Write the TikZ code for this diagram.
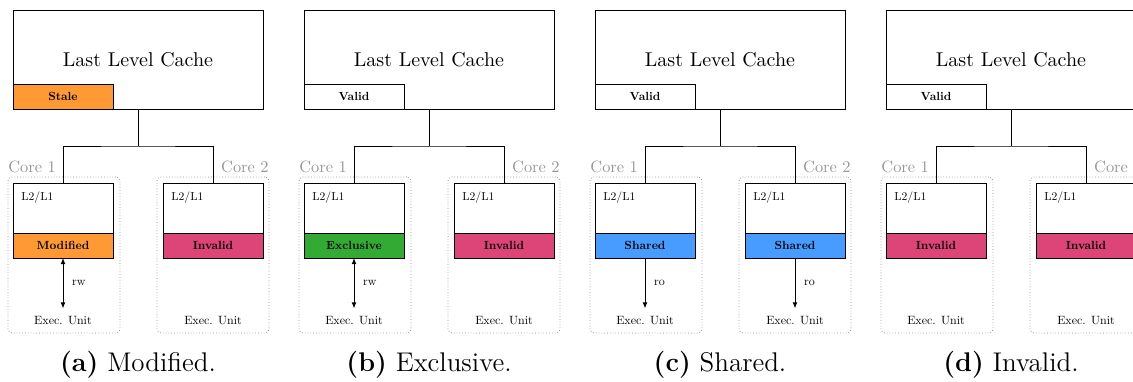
\documentclass[tikz,border=0pt]{standalone}
\usepackage{tikz}
\usetikzlibrary{arrows.meta,positioning}

\definecolor{modorange}{RGB}{255,153,51}
\definecolor{excgreen}{RGB}{51,170,51}
\definecolor{shrblue}{RGB}{72,155,255}
\definecolor{invpink}{RGB}{221,68,119}
\definecolor{coregray}{RGB}{150,150,150}

% small text as a scaled 10pt design
\newcommand{\tinytext}[1]{\scalebox{0.6}{#1}}
\newcommand{\statetext}[1]{\scalebox{0.59}{\bfseries #1}}

\tikzset{
  cachebox/.style={draw,line width=0.5pt,inner sep=0pt,outer sep=0pt,minimum width=50pt},
  statebox/.style={cachebox,minimum height=12.5pt},
  corebox/.style={draw=coregray,line width=0.4pt,dash pattern=on 0.4pt off 1pt,rounded corners=2pt,minimum width=56pt,minimum height=78pt,inner sep=0pt,outer sep=0pt},
  corelbl/.style={text=coregray,inner sep=0pt,yshift=2.5pt},
  wire/.style={line width=0.5pt},
  access/.style={line width=0.45pt,<->},
}

\begin{document}
\begin{tikzpicture}[x=0.5pt,y=-0.5pt,>={Latex[length=3pt,width=2.4pt]}]
\useasboundingbox (0,0) rectangle (1133,381);
\clip (0,0) rectangle (1133,381);
\foreach \i/\ox/\llcs/\llcc/\sa/\ca/\sb/\cb/\capt in {
    a/0/Stale/modorange/Modified/modorange/Invalid/invpink/{\textbf{(a)} Modified.},
    b/291/Valid/white/Exclusive/excgreen/Invalid/invpink/{\textbf{(b)} Exclusive.},
    c/582/Valid/white/Shared/shrblue/Shared/shrblue/{\textbf{(c)} Shared.},
    d/873/Valid/white/Invalid/invpink/Invalid/invpink/{\textbf{(d)} Invalid.}}{
  % shared last level cache
  \node [cachebox,anchor=north west,minimum width=125pt,minimum height=49.5pt] (llc\i) at (13+\ox,10) {Last Level Cache};
  \node [statebox,fill=\llcc,anchor=south west] (st\i) at (llc\i.south west) {\statetext{\llcs}};
  % the two cores
  \node [corebox,anchor=north west,label={[corelbl,anchor=base west]north west:\scalebox{0.82}{Core 1}}] (cx\i) at (8+\ox,177) {};
  \node [corebox,anchor=north west,label={[corelbl,anchor=base east]north east:\scalebox{0.82}{Core 2}}] (cy\i) at (157+\ox,177) {};
  \node [cachebox,anchor=north west,minimum height=25pt,
         label={[anchor=north west,inner sep=4pt]north west:\scalebox{0.58}{L2/L1}}] (la\i) at (13+\ox,183) {};
  \node [cachebox,anchor=north west,minimum height=25pt,
         label={[anchor=north west,inner sep=4pt]north west:\scalebox{0.58}{L2/L1}}] (lb\i) at (163+\ox,183) {};
  \node [statebox,fill=\ca,below=0pt of la\i] (sa\i) {\statetext{\sa}};
  \node [statebox,fill=\cb,below=0pt of lb\i] (sb\i) {\statetext{\sb}};
  \node [inner sep=4pt] (xa\i) at (63+\ox,321) {\tinytext{Exec. Unit}};
  \node [inner sep=4pt] (xb\i) at (213+\ox,321) {\tinytext{Exec. Unit}};
  % bus
  \coordinate (bus\i) at (138+\ox,146);
  \draw [wire] (llc\i.south) -- (bus\i);
  \draw [wire] (la\i.north) |- (bus\i) -| (lb\i.north);
  \node [font=\fontsize{13.5}{16}\selectfont] (cap\i) at (138+\ox,365) {\capt};
}
% accesses from the execution units
\draw [access] (saa.south) -- node [right=1pt] {\tinytext{rw}} (xaa.north);
\draw [access] (sab.south) -- node [right=1pt] {\tinytext{rw}} (xab.north);
\draw [access,<-] (xac.north) -- node [right=1pt] {\tinytext{ro}} (sac.south);
\draw [access,<-] (xbc.north) -- node [right=1pt] {\tinytext{ro}} (sbc.south);
\end{tikzpicture}
\end{document}
